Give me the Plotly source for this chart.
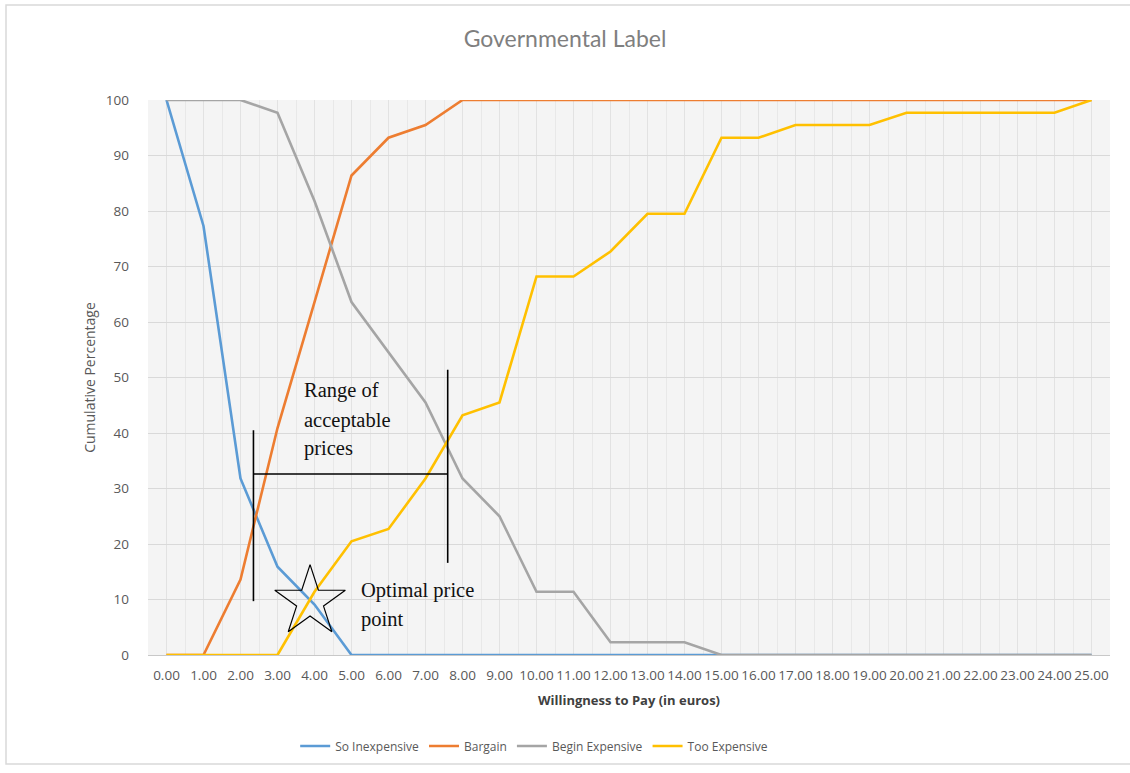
import plotly.graph_objects as go

# Price points (euros) and cumulative response shares (%)
prices = list(range(0, 26))
price_labels = [f"{p:.2f}" for p in prices]

so_inexpensive = [100, 77.3, 31.8, 15.9, 9.1, 0, 0, 0, 0, 0, 0, 0, 0, 0, 0, 0,
                  0, 0, 0, 0, 0, 0, 0, 0, 0, 0]
bargain = [0, 0, 13.6, 40.9, 63.6, 86.4, 93.2, 95.5, 100, 100, 100, 100, 100,
           100, 100, 100, 100, 100, 100, 100, 100, 100, 100, 100, 100, 100]
begin_expensive = [100, 100, 100, 97.7, 81.8, 63.6, 54.5, 45.5, 31.8, 25.0,
                   11.4, 11.4, 2.3, 2.3, 2.3, 0, 0, 0, 0, 0, 0, 0, 0, 0, 0, 0]
too_expensive = [0, 0, 0, 0, 11.4, 20.5, 22.7, 31.8, 43.2, 45.5, 68.2, 68.2,
                 72.7, 79.5, 79.5, 93.2, 93.2, 95.5, 95.5, 95.5, 97.7, 97.7,
                 97.7, 97.7, 97.7, 100]

series_names = ["So Inexpensive", "Bargain", "Begin Expensive", "Too Expensive"]
series_colors = ["#5B9BD5", "#ED7D31", "#A5A5A5", "#FFC000"]
y_ticks = list(range(0, 101, 10))

# Range of acceptable prices: bounds and the bar joining them
range_low, range_high = 2.35, 7.6
range_low_span = [9.7, 40.5]
range_high_span = [16.6, 51.4]
range_bar_level = 32.6
range_text = ["Range of", "acceptable", "prices"]
range_text_x = 3.65
range_text_y = [47.6, 42.3, 37.2]

# Optimal price point
optimal_x, optimal_y = [3.88], [9.6]
optimal_text = ["Optimal price", "point"]
optimal_text_x = 5.2
optimal_text_y = [11.6, 6.4]

fig = go.Figure()
for name, color, vals in zip(series_names, series_colors,
                             [so_inexpensive, bargain, begin_expensive, too_expensive]):
    fig.add_trace(go.Scatter(x=prices, y=vals, mode="lines", name=name,
                             line=dict(color=color, width=2.6)))

fig.add_trace(go.Scatter(x=optimal_x, y=optimal_y, mode="markers", showlegend=False,
                         marker=dict(symbol="star-open", size=53,
                                     color="black", line=dict(width=1.2, color="black"))))

line_style = dict(color="black", width=1.6)
fig.add_shape(type="line", x0=range_low, x1=range_low, y0=range_low_span[0],
              y1=range_low_span[1], line=line_style)
fig.add_shape(type="line", x0=range_high, x1=range_high, y0=range_high_span[0],
              y1=range_high_span[1], line=line_style)
fig.add_shape(type="line", x0=range_low, x1=range_high, y0=range_bar_level,
              y1=range_bar_level, line=line_style)

serif = dict(family="Liberation Serif", size=20.5, color="#111111")
for txt, yy in zip(range_text, range_text_y):
    fig.add_annotation(x=range_text_x, y=yy, text=txt, showarrow=False,
                       xanchor="left", yanchor="middle", font=serif)
for txt, yy in zip(optimal_text, optimal_text_y):
    fig.add_annotation(x=optimal_text_x, y=yy, text=txt, showarrow=False,
                       xanchor="left", yanchor="middle", font=serif)

# Light frame (left, top and bottom edges) around the chart
fig.add_shape(type="path", xref="paper", yref="paper",
              path="M 1.1,1.171 L -0.1476,1.171 L -0.1476,-0.1964 L 1.1,-0.1964",
              line=dict(color="#d9d9d9", width=1.5), layer="below")

tick_font = dict(family="Open Sans", size=13.5, color="#595959")
fig.update_layout(
    width=1130, height=773,
    margin=dict(l=148, r=20, t=100, b=118),
    paper_bgcolor="white",
    plot_bgcolor="#f4f4f4",
    title=dict(text="Governmental Label", x=0.5, xref="container", xanchor="center",
               y=0.95, yanchor="middle",
               font=dict(family="Lato", size=23, color="#7f7f7f")),
    xaxis=dict(range=[-0.5, 25.5], tickvals=prices, ticktext=price_labels,
               tickfont=tick_font, showgrid=True, gridcolor="#e2e2e2", gridwidth=1,
               minor=dict(dtick=0.5, tick0=-0.5, showgrid=True, gridcolor="#e8e8e8"),
               showline=True, linecolor="#c8c8c8", zeroline=False,
               ticks="", ticklabelstandoff=8,
               title=dict(text="<b>Willingness to Pay (in euros)</b>", standoff=12,
                          font=dict(family="Open Sans", size=13, color="#404040"))),
    yaxis=dict(range=[0, 100], tickvals=y_ticks, tickfont=tick_font,
               showgrid=True, gridcolor="#d9d9d9", zeroline=False, showline=False,
               ticks="", ticklabelstandoff=18,
               title=dict(text="Cumulative Percentage", standoff=6,
                          font=dict(family="Open Sans", size=14, color="#595959"))),
    legend=dict(orientation="h", x=0.153, xanchor="left", y=-0.164, yanchor="middle",
                font=dict(family="Open Sans", size=12, color="#595959"),
                bgcolor="rgba(0,0,0,0)", itemwidth=30),
)

fig.write_html("out.html")
